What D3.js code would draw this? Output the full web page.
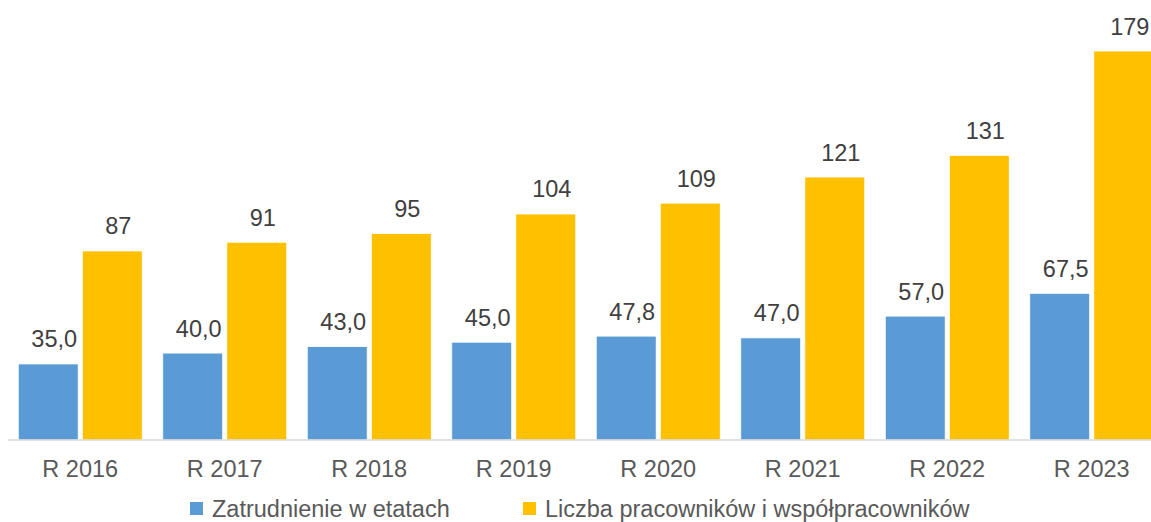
<!DOCTYPE html>
<html><head><meta charset="utf-8">
<script src="https://cdn.jsdelivr.net/npm/d3@7"></script>
<style>body{margin:0;background:#fff}svg{display:block;font-family:"Liberation Sans",Arial,sans-serif}</style>
</head><body>
<svg id="c" width="1151" height="522"></svg>
<script>
const categories = ["R 2016","R 2017","R 2018","R 2019","R 2020","R 2021","R 2022","R 2023"];
const seriesNames = ["Zatrudnienie w etatach","Liczba pracowników i współpracowników"];
const etaty = [35.0,40.0,43.0,45.0,47.8,47.0,57.0,67.5];
const pracownicy = [87,91,95,104,109,121,131,179];
const colors = ["#5B9BD5","#FFC000"];

const svg = d3.select("#c");
const x0 = d3.scaleBand().domain(categories).range([8,1164]).paddingInner(0.142).paddingOuter(0.071);
const x1 = d3.scaleBand().domain([0,1]).range([0,x0.bandwidth()]).paddingInner(0.0645);
const y = d3.scaleLinear().domain([0,179]).range([440,51]);

const fmt = [v=>d3.format(".1f")(v).replace(".",","), v=>String(v)];
const data = categories.map((c,i)=>({c, vals:[etaty[i],pracownicy[i]]}));

const g = svg.append("g").selectAll("g").data(data).join("g")
  .attr("transform",d=>`translate(${x0(d.c)},0)`);
g.selectAll("rect").data(d=>d.vals.map((v,k)=>({v,k}))).join("rect")
  .attr("x",d=>x1(d.k)).attr("width",x1.bandwidth())
  .attr("y",d=>y(d.v)).attr("height",d=>y(0)-y(d.v))
  .attr("fill",d=>colors[d.k]).attr("stroke","#fff").attr("stroke-width",0.8);
g.selectAll("text").data(d=>d.vals.map((v,k)=>({v,k}))).join("text")
  .attr("x",d=>x1(d.k)+x1.bandwidth()/2+6).attr("y",d=>y(d.v)-16.5)
  .attr("text-anchor","middle").attr("font-size",23.5).attr("fill","#404040")
  .text(d=>fmt[d.k](d.v));

const ax = svg.append("g").attr("transform","translate(0,440)")
  .call(d3.axisBottom(x0).tickSize(0).tickPadding(0));
ax.select(".domain").attr("stroke","#d9d9d9").attr("stroke-width",1.5).attr("d","M8,0H1151");
ax.selectAll("text").attr("font-size",23.5).attr("fill","#595959").attr("dy",null).attr("y",37)
  .attr("font-family","'Liberation Sans',Arial,sans-serif");

const leg = svg.append("g");
const legX = [190,523];
seriesNames.forEach((n,i)=>{
  leg.append("rect").attr("x",legX[i]).attr("y",502).attr("width",13).attr("height",13).attr("fill",colors[i]);
  leg.append("text").attr("x",legX[i]+22).attr("y",517).attr("font-size",23.5).attr("fill","#595959").text(n);
});
</script>
</body></html>
